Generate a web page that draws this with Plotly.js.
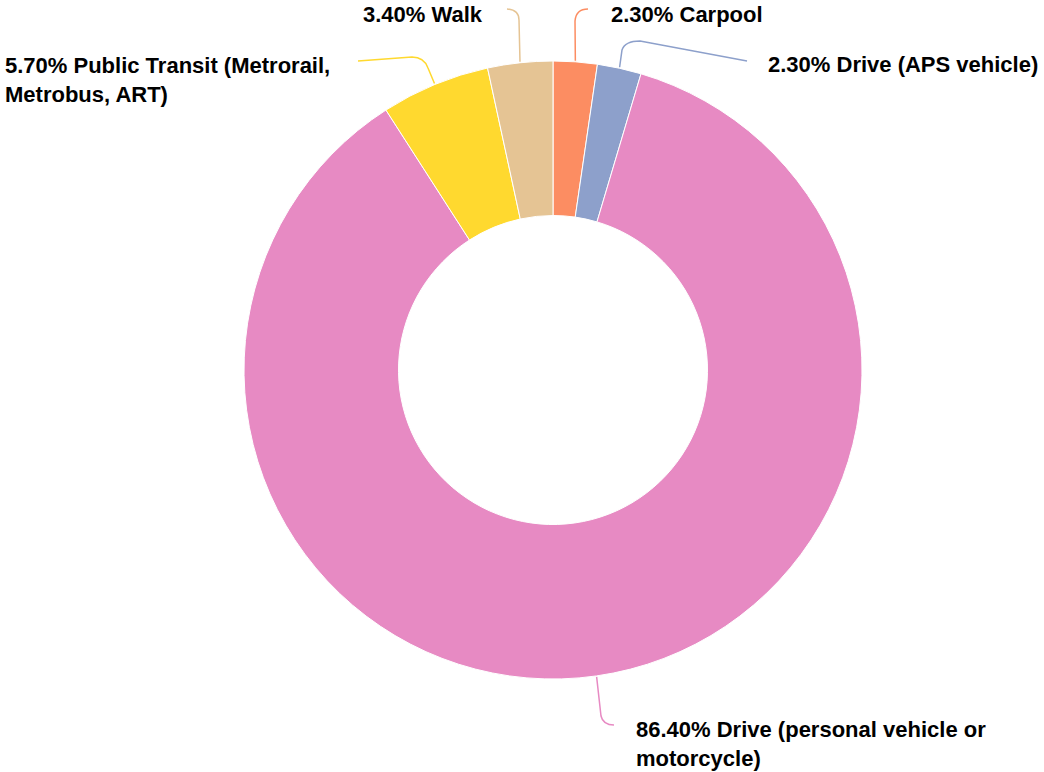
<!DOCTYPE html>
<html>
<head>
<meta charset="utf-8">
<script src="https://cdn.plot.ly/plotly-3.0.1.min.js"></script>
<style>html,body{margin:0;padding:0;background:#fff;}#chart{width:1044px;height:772px;}</style>
</head>
<body>
<div id="chart"></div>
<script>
// ---- Data ----
const labels = ['Carpool', 'Drive (APS vehicle)', 'Drive (personal vehicle or motorcycle)', 'Public Transit (Metrorail, Metrobus, ART)', 'Walk'];
const values = [2.3, 2.3, 86.4, 5.7, 3.4];
const labelText = ['Carpool', 'Drive (APS vehicle)', 'Drive (personal vehicle or<br>motorcycle)', 'Public Transit (Metrorail,<br>Metrobus, ART)', 'Walk'];
const colors = ['#fc8d62', '#8da0cb', '#e78ac3', '#ffd92f', '#e5c494'];

// ---- Layout geometry (pixels) ----
const W = 1044, H = 772;
const CX = 553, CY = 370, R = 309;
const FONT = {family: 'Arial, Liberation Sans, Helvetica, sans-serif', size: 22, color: '#000000'};

// leader-line shape and label placement per slice (pixel positions)
const leaders = [
  {elbow: [575, 21], ctrl: [576, 9], end: [588, 9], tail: null, lx: 609, ly: 15, anchor: 'left'},
  {elbow: [622, 50], ctrl: [625, 41], end: [640, 41], tail: [747, 61], lx: 766, ly: 65, anchor: 'left'},
  {elbow: [601, 716], ctrl: [603, 725], end: [614, 725], tail: null, lx: 634, ly: 744, anchor: 'left'},
  {elbow: [428, 68], ctrl: [424, 57], end: [412, 57], tail: [358, 61], lx: 3, ly: 80, anchor: 'left'},
  {elbow: [519, 20], ctrl: [519, 10], end: [507, 9], tail: null, lx: 361, ly: 15, anchor: 'left'}
];

const px = x => x / W;
const py = y => 1 - y / H;
const P = (x, y) => px(x).toFixed(5) + ',' + py(y).toFixed(5);

const total = values.reduce((a, b) => a + b, 0);
let cum = 0;
const shapes = [];
const annotations = [];
values.forEach((v, i) => {
  const mid = (cum + v / 2) / total * 2 * Math.PI; // clockwise from 12 o'clock
  cum += v;
  const sx = CX + (R + 1) * Math.sin(mid);
  const sy = CY - (R + 1) * Math.cos(mid);
  const L = leaders[i];
  let path = 'M' + P(sx, sy) + ' L' + P(L.elbow[0], L.elbow[1]) +
             ' Q' + P(L.ctrl[0], L.ctrl[1]) + ' ' + P(L.end[0], L.end[1]);
  if (L.tail) path += ' L' + P(L.tail[0], L.tail[1]);
  shapes.push({type: 'path', xref: 'paper', yref: 'paper', path: path,
               line: {color: colors[i], width: 1.5}});
  annotations.push({xref: 'paper', yref: 'paper', x: px(L.lx), y: py(L.ly),
                    xanchor: L.anchor, yanchor: 'middle', align: 'left', showarrow: false,
                    text: '<b>' + v.toFixed(2) + '% ' + labelText[i] + '</b>', font: FONT});
});

const trace = {
  type: 'pie',
  labels: labels,
  values: values,
  sort: false,
  direction: 'clockwise',
  rotation: 0,
  hole: 0.5,
  textinfo: 'none',
  hoverinfo: 'label+percent',
  marker: {colors: colors, line: {color: '#ffffff', width: 1}},
  domain: {x: [(CX - R) / W, (CX + R) / W], y: [1 - (CY + R) / H, 1 - (CY - R) / H]}
};

const layout = {
  width: W, height: H,
  margin: {l: 0, r: 0, t: 0, b: 0},
  paper_bgcolor: '#ffffff',
  plot_bgcolor: '#ffffff',
  showlegend: false,
  shapes: shapes,
  annotations: annotations,
  font: FONT
};

Plotly.newPlot('chart', [trace], layout, {displayModeBar: false, staticPlot: true});
</script>
</body>
</html>
